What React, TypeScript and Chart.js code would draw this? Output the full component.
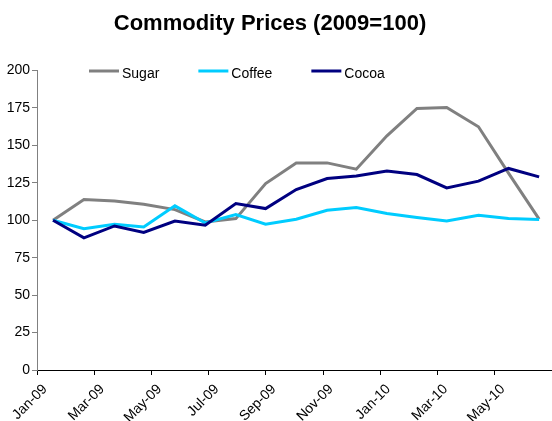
import React, { useEffect, useRef } from "react";
import { Chart, registerables } from "chart.js";

Chart.register(...registerables);

// months counted from Jan-09
const monthsSinceJan09 = [
  0.56, 1.64, 2.71, 3.73, 4.82, 5.88, 6.95, 7.99, 9.06, 10.14, 11.16, 12.23,
  13.28, 14.32, 15.43, 16.48, 17.55,
];
const sugar = [
  100, 113.8, 112.9, 110.7, 107.1, 98.9, 101.1, 124.5, 138.3, 138.3, 134.1,
  156.4, 174.7, 175.3, 162.4, 131.5, 100.7,
];
const coffee = [
  100, 94.4, 97.3, 95.5, 109.6, 98.2, 103.8, 97.3, 100.7, 106.7, 108.5, 104.5,
  101.8, 99.5, 103.3, 101.1, 100.5,
];
const cocoa = [
  100, 88.2, 96.2, 91.8, 99.5, 96.7, 111.2, 107.8, 120.5, 127.9, 129.6, 132.8,
  130.5, 121.6, 126.1, 134.6, 129,
];
const tickLabels = [
  "Jan-09", "Mar-09", "May-09", "Jul-09", "Sep-09", "Nov-09", "Jan-10",
  "Mar-10", "May-10",
];
const seriesNames = ["Sugar", "Coffee", "Cocoa"];
const seriesColors = ["#808080", "#00CCFF", "#000080"];

const FONT = "'Liberation Sans', Arial, sans-serif";

const toPoints = (values: number[]) =>
  values.map((v, i) => ({ x: monthsSinceJan09[i], y: v }));

// title and in-plot legend, drawn by hand to match the original placement
const decorations = {
  id: "decorations",
  afterDraw(chart: Chart) {
    const ctx = chart.ctx;
    ctx.save();
    ctx.fillStyle = "#000";
    ctx.font = `bold 22px ${FONT}`;
    ctx.textAlign = "center";
    ctx.textBaseline = "alphabetic";
    ctx.fillText("Commodity Prices (2009=100)", 270, 30);

    ctx.font = `14px ${FONT}`;
    ctx.textAlign = "left";
    let x = 89;
    chart.data.datasets.forEach((ds) => {
      ctx.strokeStyle = ds.borderColor as string;
      ctx.lineWidth = 3;
      ctx.beginPath();
      ctx.moveTo(x, 71);
      ctx.lineTo(x + 30, 71);
      ctx.stroke();
      const label = ds.label || "";
      ctx.fillStyle = "#000";
      ctx.fillText(label, x + 33, 78);
      x += 33 + ctx.measureText(label).width + 39;
    });
    ctx.restore();
  },
};

const App = () => {
  const canvasRef = useRef<HTMLCanvasElement>(null);

  useEffect(() => {
    if (!canvasRef.current) return;
    const series = [sugar, coffee, cocoa];

    const chart = new Chart(canvasRef.current, {
      type: "line",
      data: {
        datasets: series.map((values, i) => ({
          label: seriesNames[i],
          data: toPoints(values),
          borderColor: seriesColors[i],
          backgroundColor: seriesColors[i],
          borderWidth: 3,
          pointRadius: 0,
          tension: 0,
          order: 2 - i, // later series on top, as in the original
        })),
      },
      options: {
        responsive: true,
        maintainAspectRatio: false,
        animation: false,
        layout: { padding: { top: 70.5, left: 0, right: 0, bottom: 0 } },
        plugins: {
          legend: { display: false },
          title: { display: false },
          tooltip: { enabled: false },
        },
        scales: {
          x: {
            type: "linear",
            min: 0,
            max: 18,
            afterFit: (scale) => {
              scale.height = 51;
            },
            border: { color: "#000", width: 1 },
            grid: {
              drawOnChartArea: false,
              tickLength: 5,
              color: "#000",
            },
            ticks: {
              stepSize: 2,
              autoSkip: false,
              minRotation: 45,
              maxRotation: 45,
              labelOffset: 8,
              padding: 6,
              color: "#000",
              font: { family: FONT, size: 14 },
              callback: (value) => tickLabels[Number(value) / 2],
            },
          },
          y: {
            min: 0,
            max: 200,
            afterFit: (scale) => {
              scale.width = 37;
            },
            border: { color: "#808080", width: 1 },
            grid: {
              drawOnChartArea: false,
              tickLength: 5,
              color: "#808080",
            },
            ticks: {
              stepSize: 25,
              color: "#000",
              padding: 2,
              font: { family: FONT, size: 14 },
            },
          },
        },
      },
      plugins: [decorations],
    });

    return () => {
      chart.destroy();
    };
  }, []);

  return (
    <div
      style={{
        position: "absolute",
        left: 0,
        top: 0,
        width: 552,
        height: 421,
        background: "#fff",
      }}
    >
      <canvas ref={canvasRef}></canvas>
    </div>
  );
};

export default App;
